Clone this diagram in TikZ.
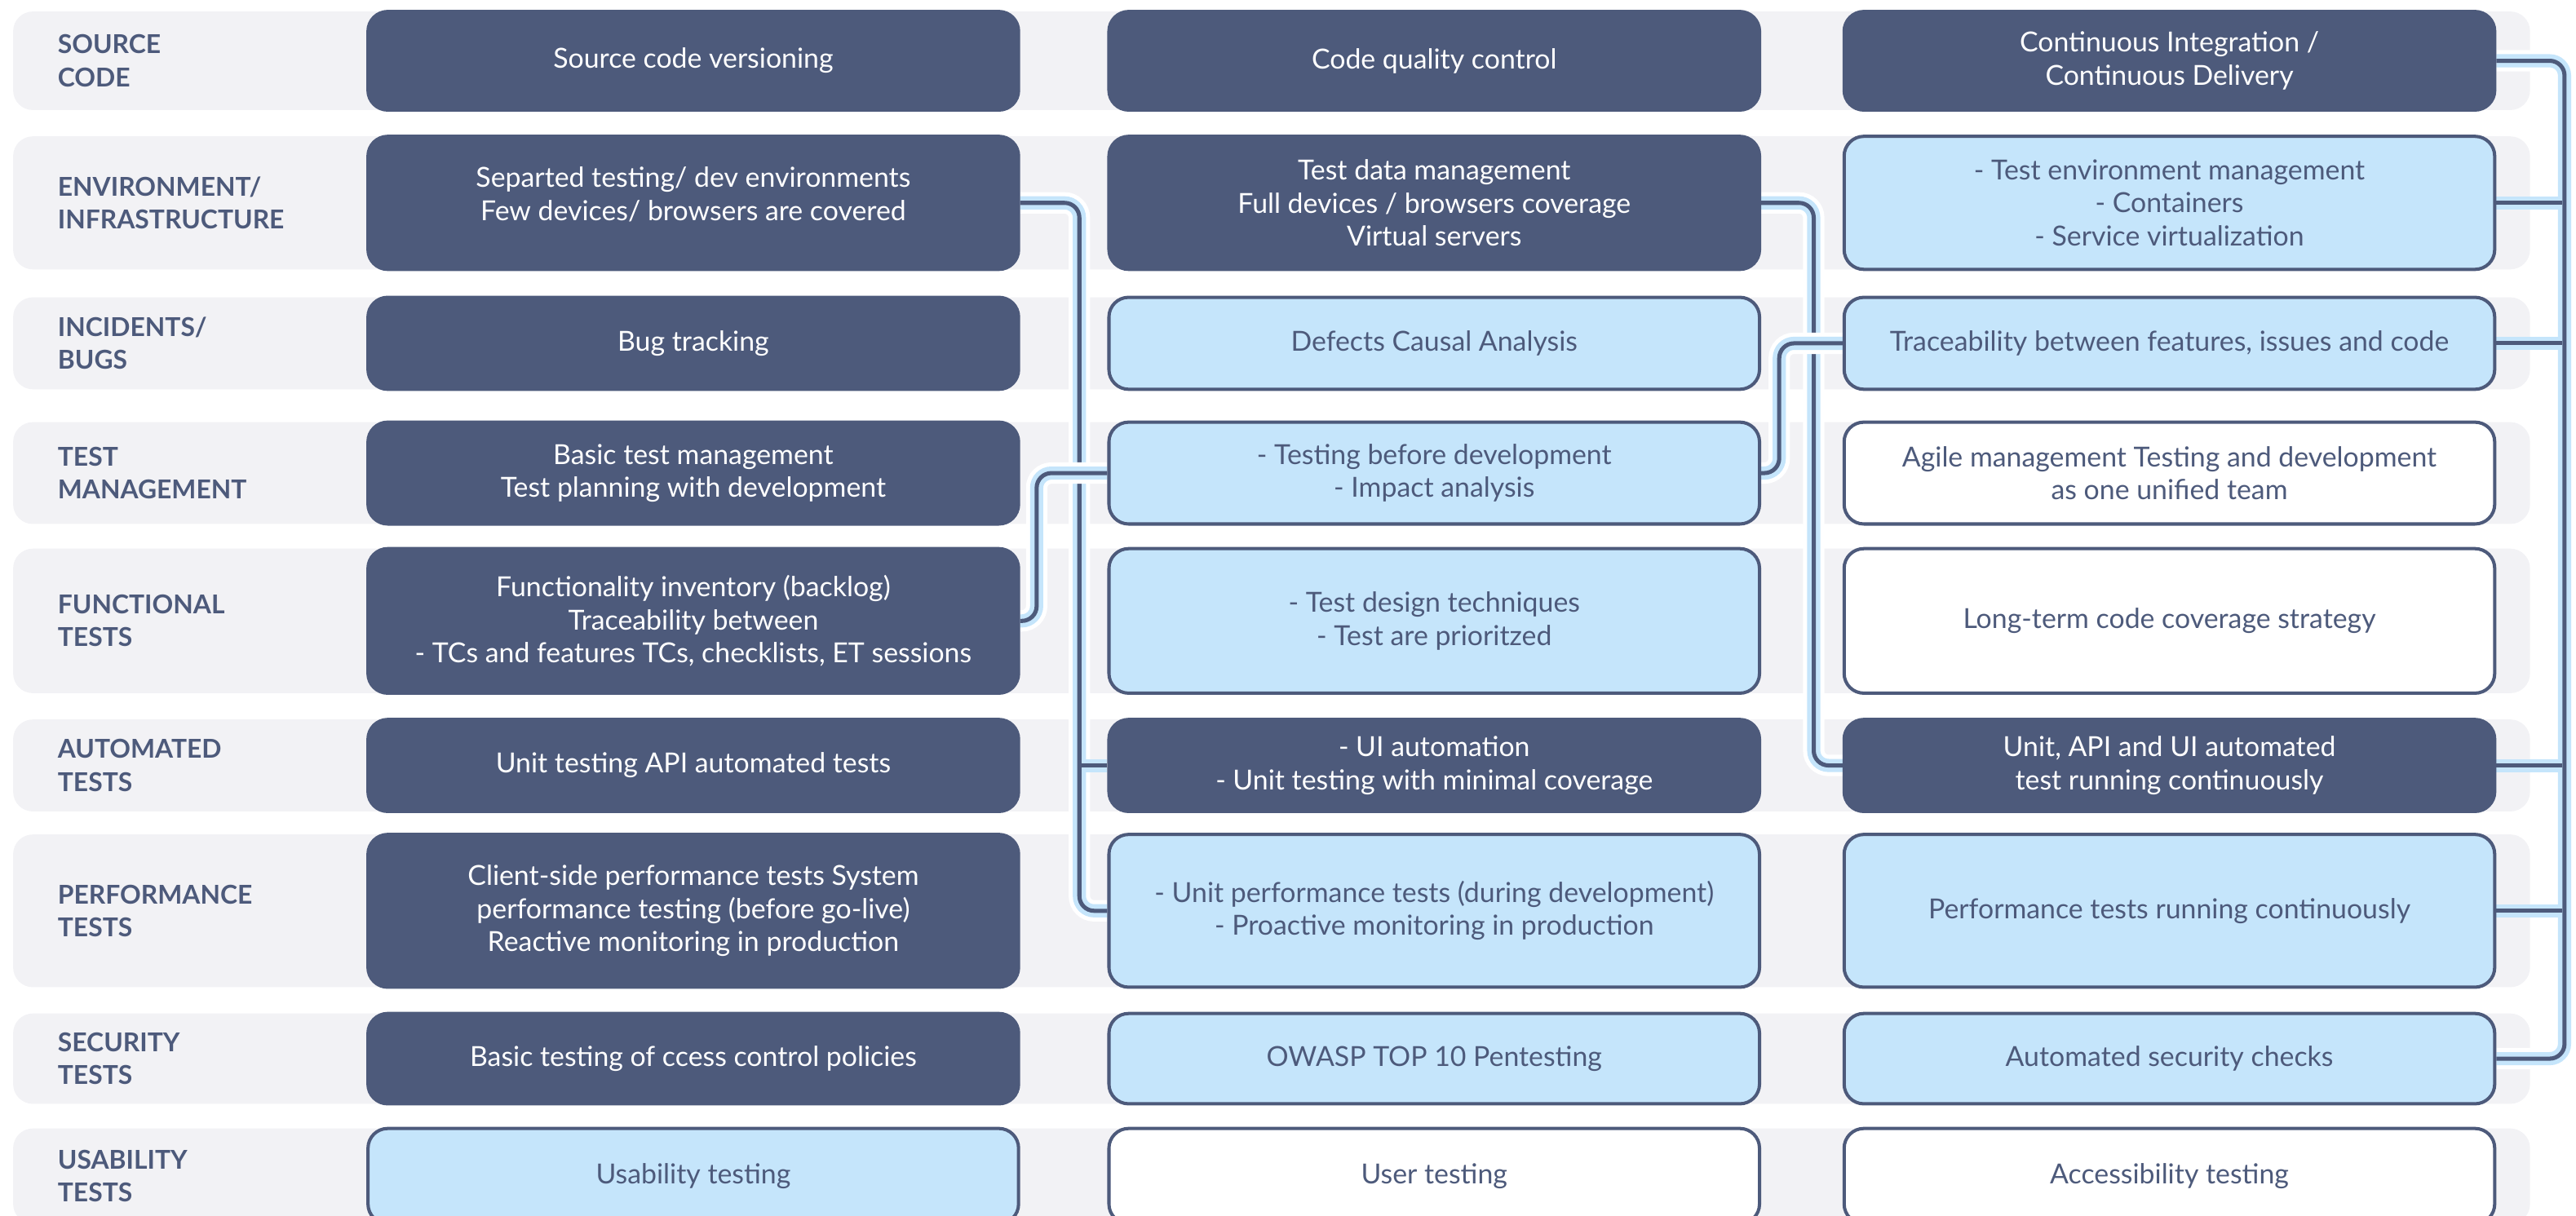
\documentclass[tikz,border=0pt]{standalone}
\usepackage{fontspec}
\setmainfont{Lato}
\definecolor{navy}{RGB}{77,90,123}
\definecolor{sky}{RGB}{197,229,251}
\definecolor{band}{RGB}{242,242,245}
\pgfdeclarelayer{rows}
\pgfdeclarelayer{links}
\pgfsetlayers{rows,links,main}
\begin{document}
\begin{tikzpicture}[x=1pt, y=-1pt,
    cell/.style={draw=navy, line width=2pt, rounded corners=12pt, minimum width=396pt, inner sep=0pt, align=center, font=\fontsize{16.8}{20}\selectfont},
    dark/.style={cell, fill=navy, text=white},
    light/.style={cell, fill=sky, text=navy},
    plain/.style={cell, fill=white, text=navy},
    rowtitle/.style={anchor=west, align=left, inner sep=0pt, text=navy, font=\bfseries\fontsize{15.8}{20}\selectfont},
    link/.style={draw=navy, line width=2.5pt, rounded corners=9pt, preaction={draw=white, line width=13pt}, preaction={draw=sky, line width=8pt}},
    stub/.style={draw=navy, line width=2.5pt, preaction={draw=sky, line width=8pt}}]

    \useasboundingbox (0,0) rectangle (1568,740);

    % row bands and titles
    \begin{pgfonlayer}{rows}
    \foreach \t/\h/\name in {7/60/{SOURCE\\CODE}, 83/81/{ENVIRONMENT/\\INFRASTRUCTURE}, 181/56/{INCIDENTS/\\BUGS},
        257/62/{TEST\\MANAGEMENT}, 334/88/{FUNCTIONAL\\TESTS}, 438/56/{AUTOMATED\\TESTS},
        508/93/{PERFORMANCE\\TESTS}, 617/55/{SECURITY\\TESTS}, 687/58/{USABILITY\\TESTS}} {
        \fill[band, rounded corners=12pt] (8,\t) rectangle ++(1532,\h);
        \node[rowtitle] at (35,\t+\h/2) {\name};
    }
    \end{pgfonlayer}

    \coordinate (busA) at (657,0);
    \coordinate (busB) at (631,0);
    \coordinate (busC) at (1083,0);
    \coordinate (busD) at (1104,0);
    \coordinate (busE) at (1561,0);

    % boxes
    \node (src1) [dark, minimum height=60pt] at (422,37) {Source code versioning};
    \node (src2) [dark, minimum height=60pt] at (873,37) {Code quality control};
    \node (src3) [dark, minimum height=60pt] at (1320.5,37) {Continuous Integration /\\Continuous Delivery};

    \node (env1) [dark, minimum height=81pt] at (422,123.5) {Separted testing/ dev environments\\Few devices/ browsers are covered\\[-9pt]};
    \node (env2) [dark, minimum height=81pt] at (873,123.5) {Test data management\\Full devices / browsers coverage\\Virtual servers};
    \node (env3) [light, minimum height=81pt] at (1320.5,123.5) {- Test environment management\\- Containers\\- Service virtualization};

    \node (bug1) [dark, minimum height=56pt] at (422,209) {Bug tracking};
    \node (bug2) [light, minimum height=56pt] at (873,209) {Defects Causal Analysis};
    \node (bug3) [light, minimum height=56pt] at (1320.5,209) {Traceability between features, issues and code};

    \node (mgmt1) [dark, minimum height=62pt] at (422,288) {Basic test management\\Test planning with development};
    \node (mgmt2) [light, minimum height=62pt] at (873,288) {- Testing before development\\- Impact analysis};
    \node (mgmt3) [plain, minimum height=62pt] at (1320.5,288) {Agile management Testing and development\\as one unified team};

    \node (func1) [dark, minimum height=88pt] at (422,378) {Functionality inventory (backlog)\\Traceability between\\- TCs and features TCs, checklists, ET sessions};
    \node (func2) [light, minimum height=88pt] at (873,378) {- Test design techniques\\- Test are prioritzed};
    \node (func3) [plain, minimum height=88pt] at (1320.5,378) {Long-term code coverage strategy};

    \node (auto1) [dark, minimum height=56pt] at (422,466) {Unit testing API automated tests};
    \node (auto2) [dark, minimum height=56pt] at (873,466) {- UI automation\\- Unit testing with minimal coverage};
    \node (auto3) [dark, minimum height=56pt] at (1320.5,466) {Unit, API and UI automated\\test running continuously};

    \node (perf1) [dark, minimum height=93pt] at (422,554.5) {Client-side performance tests System\\performance testing (before go-live)\\Reactive monitoring in production};
    \node (perf2) [light, minimum height=93pt] at (873,554.5) {- Unit performance tests (during development)\\- Proactive monitoring in production};
    \node (perf3) [light, minimum height=93pt] at (1320.5,554.5) {Performance tests running continuously};

    \node (sec1) [dark, minimum height=55pt] at (422,644.5) {Basic testing of ccess control policies};
    \node (sec2) [light, minimum height=55pt] at (873,644.5) {OWASP TOP 10 Pentesting};
    \node (sec3) [light, minimum height=55pt] at (1320.5,644.5) {Automated security checks};

    \node (usab1) [light, minimum height=58pt] at (422,716) {Usability testing};
    \node (usab2) [plain, minimum height=58pt] at (873,716) {User testing};
    \node (usab3) [plain, minimum height=58pt] at (1320.5,716) {Accessibility testing};

    % connectors, kept behind the boxes
    \begin{pgfonlayer}{links}
    \draw [link] (env1.east) -| (busA |- perf2.west) -- (perf2.west);
    \draw [stub] ([xshift=1.5pt]busA |- auto2.west) -- (auto2.west);
    \draw [link] (func1.east) -| (busB |- mgmt2.west) -- (mgmt2.west);
    \draw [link] (env2.east) -| (busD |- auto3.west) -- (auto3.west);
    \draw [link] (mgmt2.east) -| (busC |- bug3.west) -- (bug3.west);
    \draw [link] (src3.east) -| (busE |- sec3.east) -- (sec3.east);
    \foreach \n in {env3, bug3, auto3, perf3}
        \draw [stub] ([xshift=-1.5pt]busE |- \n.east) -- (\n.east);
    \end{pgfonlayer}
\end{tikzpicture}
\end{document}
